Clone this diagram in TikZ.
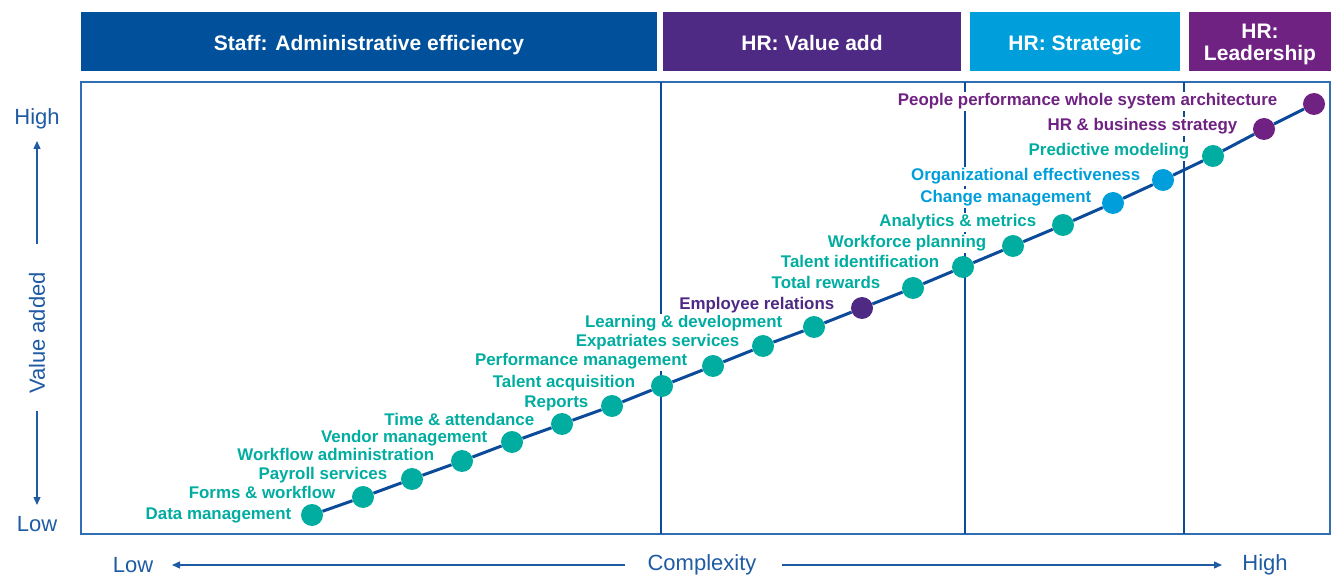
\documentclass[tikz,border=0pt]{standalone}
\usepackage{fontspec}
\setmainfont{Liberation Sans}
\usetikzlibrary{arrows.meta}
\definecolor{hdrblue}{HTML}{00509B}
\definecolor{hdrviolet}{HTML}{4E2A84}
\definecolor{hdrlight}{HTML}{009FDB}
\definecolor{hdrpurple}{HTML}{702283}
\definecolor{tealc}{HTML}{00ADA0}
\definecolor{linec}{HTML}{0C4A9A}
\definecolor{axisc}{HTML}{1F5BA3}
\definecolor{framecol}{HTML}{2F6DB5}
\pgfdeclarelayer{bg}
\pgfsetlayers{bg,main}
\tikzset{
  hdr/.style={draw=none, text=white, font=\fontsize{21}{22}\selectfont\bfseries, minimum height=59pt, inner sep=0pt, align=center, text height=19pt, text depth=0pt},
  hdrtxt/.style={text=white, font=\fontsize{21}{22}\selectfont\bfseries, inner sep=0pt, align=center},
  axislbl/.style={text=axisc, font=\fontsize{22}{24}\selectfont, inner sep=1pt},
  axarr/.style={draw=axisc, line width=1.3pt, -{Triangle[length=8pt,width=7pt]}},
  dot/.style={circle, minimum size=22pt, inner sep=0pt, draw=none},
  lbl/.style={anchor=base east, fill=white, inner sep=1.5pt, font=\fontsize{16.9}{18}\selectfont\bfseries},
  conn/.style={draw=linec, line width=3pt},
  divider/.style={draw=linec, line width=1.4pt},
  framec/.style={draw=framecol, line width=1.4pt}
}
\begin{document}
\begin{tikzpicture}[x=1pt,y=-1pt]
\useasboundingbox (0,0) rectangle (1331,577);
% header boxes
\node[hdr, fill=hdrblue, minimum width=576pt] (h1) at (369,41.5) {Staff: Administrative efficiency};
\node[hdr, fill=hdrviolet, minimum width=298pt] (h2) at (812,41.5) {HR: Value add};
\node[hdr, fill=hdrlight, minimum width=210pt] (h3) at (1075,41.5) {HR: Strategic};
\node[hdr, fill=hdrpurple, minimum width=142pt] (h4) at (1260,41.5) {};
\node[hdrtxt] (h4t) at (1260,44) {HR:\\Leadership};
% frame and dividers
\begin{pgfonlayer}{bg}
\draw[framec] (81,82) rectangle (1330,534);
\draw[divider] (661,82) -- (661,534);
\draw[divider] (965,82) -- (965,534);
\draw[divider] (1184,82) -- (1184,534);
\end{pgfonlayer}
% vertical axis
\node[axislbl] (vhigh) at (37,119) {High};
\node[axislbl] (vlow) at (37,524) {Low};
\node[axislbl, rotate=90] (vval) at (37,333) {Value added};
\coordinate (vt0) at (37,244);
\coordinate (vt1) at (37,141);
\coordinate (vb0) at (37,411);
\coordinate (vb1) at (37,505);
\draw[axarr] (vt0) -- (vt1);
\draw[axarr] (vb0) -- (vb1);
% horizontal axis
\node[axislbl] (hlow) at (133,565) {Low};
\node[axislbl] (hcx) at (702,565) {Complexity};
\node[axislbl] (hhigh) at (1265,565) {High};
\coordinate (hl0) at (625,565);
\coordinate (hl1) at (172,565);
\coordinate (hr0) at (782,565);
\coordinate (hr1) at (1222,565);
\draw[axarr] (hl0) -- (hl1);
\draw[axarr] (hr0) -- (hr1);
% dots and labels (label x = right end of text, label y = baseline)
\foreach \n/\x/\y/\c/\t/\lx/\ly in {
 1/312/515/tealc/Data management/293/519,
 2/363/497/tealc/Forms \& workflow/337/498,
 3/412/479/tealc/Payroll services/389/479,
 4/462/461/tealc/Workflow administration/436/460,
 5/512/442/tealc/Vendor management/489/442,
 6/562/424/tealc/Time \& attendance/536/425,
 7/612/406/tealc/Reports/590/407,
 8/662/386/tealc/Talent acquisition/637/387,
 9/713/366/tealc/Performance management/689/366,
 10/763/346/tealc/Expatriates services/741/347,
 11/814/327/tealc/Learning \& development/784/328,
 12/862/308/hdrviolet/Employee relations/836/310,
 13/913/288/tealc/Total rewards/882/289,
 14/963/267/tealc/Talent identification/941/268,
 15/1013/246/tealc/Workforce planning/988/248,
 16/1063/225/tealc/Analytics \& metrics/1038/227,
 17/1113/203/hdrlight/Change management/1093/203,
 18/1163/180/hdrlight/Organizational effectiveness/1142/181,
 19/1213/156/tealc/Predictive modeling/1191/156,
 20/1264/129/hdrpurple/HR \& business strategy/1239/131,
 21/1314/104/hdrpurple/People performance whole system architecture/1279/106}
{
 \node[dot, fill=\c] (d\n) at (\x,\y) {};
 \node[lbl, text=\c] (l\n) at (\lx,\ly) {\t};
}
\foreach \i [remember=\i as \j (initially 1)] in {2,...,21}
 \draw[conn] (d\j) -- (d\i);
\end{tikzpicture}
\end{document}
